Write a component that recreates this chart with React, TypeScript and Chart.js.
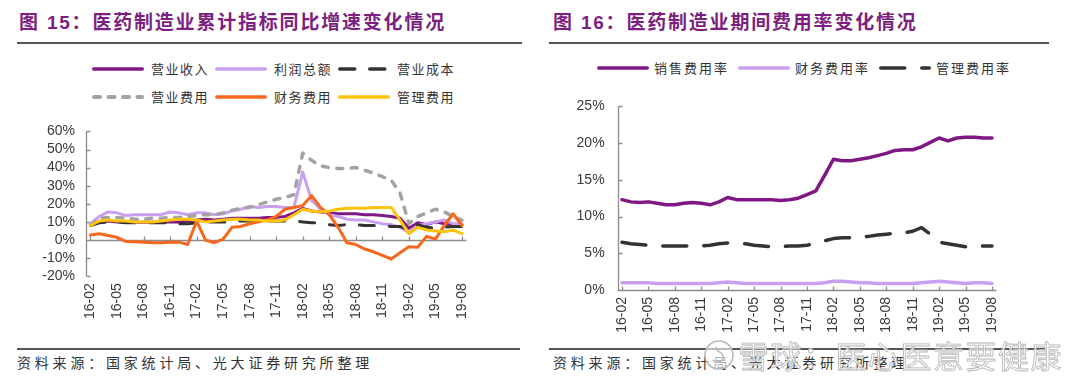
import React, { useEffect, useRef } from 'react';
import { Chart, registerables } from 'chart.js';

Chart.register(...registerables);

const months = [
  '16-02', '16-03', '16-04', '16-05', '16-06', '16-07', '16-08', '16-09', '16-10', '16-11', '16-12',
  '17-01', '17-02', '17-03', '17-04', '17-05', '17-06', '17-07', '17-08', '17-09', '17-10', '17-11', '17-12',
  '18-01', '18-02', '18-03', '18-04', '18-05', '18-06', '18-07', '18-08', '18-09', '18-10', '18-11', '18-12',
  '19-01', '19-02', '19-03', '19-04', '19-05', '19-06', '19-07', '19-08',
];

// 图15：累计同比增速 (%)
const revenue = [8.5, 10, 10.5, 10, 9.8, 9.8, 9.8, 9.8, 10, 10, 10, 10.5, 11, 11.5, 11, 11.5, 12, 12, 12, 12, 12.5, 12.5, 13, 15, 17.5, 16, 15.5, 15, 14.5, 14.5, 14.5, 14, 14, 13.5, 13, 12, 6.5, 9.5, 8.5, 10, 9, 8.5, 8.5];
const profit = [9, 13, 15.5, 15, 13.5, 14, 14, 14, 14, 15.5, 15, 14, 15, 15, 14, 14.5, 16, 17, 18.5, 18, 18.5, 18.5, 18, 18, 37.5, 22, 17, 14, 13, 11.5, 11, 11, 10, 9, 8.5, 7, 4, 8, 9, 10, 11, 9, 9];
const cost = [8, 9.5, 10, 10, 9.5, 9.5, 9.5, 9.5, 9.5, 9.5, 9, 9, 9.5, 10, 10, 10, 10, 10.5, 10.5, 10.5, 10.5, 10.5, 10.5, 10.5, 10, 9.5, 9.5, 8.5, 8, 8.5, 8.5, 8, 8, 8, 7.5, 7.5, 5.5, 8.5, 7, 6.5, 7, 7.5, 7.5];
const sellingExp = [8, 12, 12.5, 12.5, 12, 11.5, 11.5, 12, 12, 12.5, 12.5, 13, 13.5, 14, 14, 15, 16.5, 17.5, 18, 19.5, 21, 22.5, 23.5, 25, 48, 44, 41, 40, 39.5, 39.5, 40, 38.5, 37, 35, 33, 26, 9, 13, 15, 17, 15.5, 13, 11];
const financeExp = [2.8, 3.5, 2.5, 1.5, -0.8, -1, -1.2, -1.5, -1.5, -1.3, -1.2, -2.5, 10.5, 0, -1.5, 0.5, 7, 7.5, 9, 10, 11, 13, 17, 18, 19, 24.5, 18, 14, 7, -1.5, -2.5, -5, -6.5, -8.5, -10.5, -7, -3.7, -4, 2, 0.5, 8, 14.5, 8];
const adminExp = [8, 10.5, 11, 10.5, 10.5, 10, 10, 10, 10.5, 11, 11.5, 11.5, 11, 10, 10.5, 11, 11.5, 11.5, 11, 11, 10.5, 10.5, 11, 14, 17, 16, 15.5, 16, 17, 17.5, 17.5, 17.5, 18, 18, 18, 11, 3.5, 7, 5.5, 5, 4.5, 5.5, 3.5];

// 图16：期间费用率 (%)
const sellingRate = [12.3, 12.0, 11.9, 12.0, 11.8, 11.6, 11.6, 11.8, 11.9, 11.8, 11.6, 12.0, 12.6, 12.3, 12.3, 12.3, 12.3, 12.3, 12.2, 12.3, 12.5, 13.0, 13.5, 15.6, 17.8, 17.6, 17.6, 17.8, 18.0, 18.3, 18.6, 19.0, 19.1, 19.1, 19.5, 20.1, 20.7, 20.3, 20.7, 20.8, 20.8, 20.7, 20.7];
const financeRate = [1.0, 1.0, 1.0, 1.0, 0.9, 0.9, 0.9, 0.9, 0.9, 0.9, 0.9, 1.0, 1.1, 1.0, 0.9, 0.9, 0.9, 0.9, 0.9, 0.9, 0.9, 0.9, 0.9, 1.0, 1.2, 1.2, 1.1, 1.0, 1.0, 0.9, 0.9, 0.9, 0.9, 0.9, 1.0, 1.1, 1.2, 1.1, 1.0, 0.9, 1.0, 1.0, 0.9];
const adminRate = [6.5, 6.3, 6.2, 6.1, 6.0, 6.0, 6.0, 6.0, 6.0, 6.0, 6.1, 6.3, 6.4, 6.4, 6.3, 6.1, 6.0, 5.9, 5.9, 6.0, 6.0, 6.1, 6.3, 6.7, 7.0, 7.1, 7.1, 7.2, 7.3, 7.5, 7.6, 7.7, 7.8, 8.0, 8.5, 7.6, 6.5, 6.3, 6.1, 5.9, 5.9, 6.0, 6.0];

const PURPLE = '#7f1784';
const LAVENDER = '#c9a0f0';
const BLACK = '#333333';
const GRAY = '#a3a3a3';
const ORANGE = '#f8671c';
const YELLOW = '#ffc20e';
const TITLE = '#7d1f80';
const AXIS = '#8c8c8c';
const TEXT = '#3a3a3a';

const DASH_LONG_1 = [15, 15];
const DASH_LONG_2 = [24, 17];
const DASH_SHORT = [6, 8.5];

const fig15Series = [
  { label: '营业收入', data: revenue, color: PURPLE, dash: [] as number[] },
  { label: '利润总额', data: profit, color: LAVENDER, dash: [] as number[] },
  { label: '营业成本', data: cost, color: BLACK, dash: DASH_LONG_1 },
  { label: '营业费用', data: sellingExp, color: GRAY, dash: DASH_SHORT },
  { label: '财务费用', data: financeExp, color: ORANGE, dash: [] as number[] },
  { label: '管理费用', data: adminExp, color: YELLOW, dash: [] as number[] },
];

const fig16Series = [
  { label: '销售费用率', data: sellingRate, color: PURPLE, dash: [] as number[] },
  { label: '财务费用率', data: financeRate, color: LAVENDER, dash: [] as number[] },
  { label: '管理费用率', data: adminRate, color: BLACK, dash: DASH_LONG_2 },
];

function axesPlugin(zeroValue: number) {
  return {
    id: 'customAxes',
    beforeDatasetsDraw(chart: any) {
      const { ctx, chartArea, scales } = chart;
      const xs = scales.x;
      const ys = scales.y;
      ctx.save();
      ctx.strokeStyle = AXIS;
      ctx.lineWidth = 1.3;
      const left = Math.round(chartArea.left) + 0.5;
      ctx.beginPath();
      ctx.moveTo(left, chartArea.top);
      ctx.lineTo(left, chartArea.bottom);
      ys.ticks.forEach((t: any) => {
        const py = Math.round(ys.getPixelForValue(t.value)) + 0.5;
        ctx.moveTo(left, py);
        ctx.lineTo(left + 4, py);
      });
      const py0 = Math.round(ys.getPixelForValue(zeroValue)) + 0.5;
      ctx.moveTo(chartArea.left, py0);
      ctx.lineTo(chartArea.right, py0);
      for (let i = 0; i < months.length; i += 3) {
        const px = Math.round(xs.getPixelForValue(i)) + 0.5;
        ctx.moveTo(px, py0);
        ctx.lineTo(px, py0 - 4);
      }
      ctx.stroke();
      ctx.restore();
    },
  };
}

function makeConfig(
  series: { label: string; data: number[]; color: string; dash: number[] }[],
  lw: number,
  yMin: number,
  yMax: number,
  step: number,
  yWidth: number,
  xHeight: number,
  padTop: number,
  padRight: number,
  yPad: number,
  zeroValue: number
): any {
  const n = series.length;
  return {
    type: 'line',
    data: {
      labels: months,
      datasets: series.map((s, i) => ({
        label: s.label,
        data: s.data,
        borderColor: s.color,
        backgroundColor: s.color,
        borderWidth: s.color === GRAY ? lw + 0.5 : lw,
        borderDash: s.dash,
        borderCapStyle: 'round',
        borderJoinStyle: 'round',
        pointRadius: 0,
        tension: 0,
        fill: false,
        order: n - i,
      })),
    },
    options: {
      animation: false,
      responsive: false,
      events: [],
      layout: { padding: { left: 0, right: padRight, top: padTop, bottom: 0 } },
      plugins: { legend: { display: false }, tooltip: { enabled: false } },
      scales: {
        x: {
          type: 'category',
          offset: true,
          grid: { display: false, drawTicks: false },
          border: { display: false },
          ticks: {
            autoSkip: false,
            maxRotation: 90,
            minRotation: 90,
            padding: 7,
            color: TEXT,
            font: { family: '"Liberation Sans", Arial, sans-serif', size: 14 },
            callback: (_v: any, i: number) => (i % 3 === 0 ? months[i] : null),
          },
          afterFit: (s: any) => {
            s.height = xHeight;
          },
        },
        y: {
          min: yMin,
          max: yMax,
          grid: { display: false, drawTicks: false },
          border: { display: false },
          ticks: {
            autoSkip: false,
            stepSize: step,
            padding: yPad,
            color: TEXT,
            font: { family: '"Liberation Sans", Arial, sans-serif', size: 14 },
            callback: (v: any) => v + '%',
          },
          afterFit: (s: any) => {
            s.width = yWidth;
          },
        },
      },
    },
    plugins: [axesPlugin(zeroValue)],
  };
}

function Sample({ color, dash, lw, w }: { color: string; dash: number[]; lw: number; w: number }) {
  return (
    <svg width={w} height={10} style={{ display: 'block' }}>
      <line
        x1={lw / 2}
        y1={5}
        x2={w - lw / 2}
        y2={5}
        stroke={color}
        strokeWidth={lw}
        strokeLinecap="round"
        strokeDasharray={dash.length ? dash.join(' ') : undefined}
      />
    </svg>
  );
}

function LegendEntry({
  x, y, color, dash, lw, label, textX, spacing,
}: {
  x: number; y: number; color: string; dash: number[]; lw: number; label: string; textX: number; spacing: number;
}) {
  return (
    <>
      <div style={{ position: 'absolute', left: x, top: y - 5 }}>
        <Sample color={color} dash={dash} lw={lw} w={52} />
      </div>
      <div
        style={{
          position: 'absolute',
          left: textX,
          top: y - 9,
          height: 18,
          lineHeight: '18px',
          fontSize: 13,
          letterSpacing: spacing,
          color: '#333',
          fontFamily: '"Noto Sans CJK SC", sans-serif',
          whiteSpace: 'nowrap',
        }}
      >
        {label}
      </div>
    </>
  );
}

export default function App() {
  const ref1 = useRef<HTMLCanvasElement | null>(null);
  const ref2 = useRef<HTMLCanvasElement | null>(null);

  useEffect(() => {
    const c1 = new Chart(
      ref1.current as HTMLCanvasElement,
      makeConfig(fig15Series, 3, -20, 60, 10, 86, 53.8, 21.4, 73.6, 11, 0)
    );
    const c2 = new Chart(
      ref2.current as HTMLCanvasElement,
      makeConfig(fig16Series, 3.5, 0, 25, 5, 77.6, 55, 18, 83.6, 13, 0)
    );
    return () => {
      c1.destroy();
      c2.destroy();
    };
  }, []);

  const titleStyle: React.CSSProperties = {
    position: 'absolute',
    top: 12,
    height: 22,
    lineHeight: '22px',
    fontSize: 19,
    fontWeight: 700,
    letterSpacing: 1.8,
    color: TITLE,
    fontFamily: '"Liberation Sans", "Noto Sans CJK SC", sans-serif',
    whiteSpace: 'nowrap',
  };
  const footStyle: React.CSSProperties = {
    position: 'absolute',
    top: 353,
    height: 18,
    lineHeight: '18px',
    fontSize: 14,
    letterSpacing: 3.8,
    color: '#333',
    fontFamily: '"Noto Sans CJK SC", sans-serif',
    whiteSpace: 'nowrap',
  };
  const rule = (left: number, top: number, width: number): React.CSSProperties => ({
    position: 'absolute',
    left,
    top,
    width,
    height: 1.5,
    background: '#555',
  });

  const rows15 = [
    [fig15Series[0], fig15Series[1], fig15Series[2]],
    [fig15Series[3], fig15Series[4], fig15Series[5]],
  ];
  const cols15 = [92, 215, 338];
  const rowsY15 = [69, 97];
  const cols16 = [597, 738, 879];

  return (
    <div
      style={{
        position: 'absolute',
        left: 0,
        top: 0,
        width: 1080,
        height: 389,
        overflow: 'hidden',
        background: '#fff',
      }}
    >
      <div style={{ ...titleStyle, left: 19 }}>图 15：医药制造业累计指标同比增速变化情况</div>
      <div style={{ ...titleStyle, left: 553 }}>图 16：医药制造业期间费用率变化情况</div>
      <div style={rule(17, 42, 505)} />
      <div style={rule(549, 42, 500)} />

      {rows15.map((row, r) =>
        row.map((s, c) => (
          <LegendEntry
            key={s.label}
            x={cols15[c]}
            y={rowsY15[r]}
            color={s.color}
            dash={s.dash}
            lw={s.color === GRAY ? 4 : 3.5}
            label={s.label}
            textX={cols15[c] + 59}
            spacing={1.5}
          />
        ))
      )}
      {fig16Series.map((s, c) => (
        <LegendEntry
          key={s.label}
          x={cols16[c]}
          y={68}
          color={s.color}
          dash={s.dash}
          lw={3.5}
          label={s.label}
          textX={cols16[c] + 57}
          spacing={2}
        />
      ))}

      <canvas
        ref={ref1}
        width={540}
        height={220}
        style={{ position: 'absolute', left: 0, top: 110, width: 540, height: 220 }}
      />
      <canvas
        ref={ref2}
        width={540}
        height={260}
        style={{ position: 'absolute', left: 540, top: 85, width: 540, height: 260 }}
      />

      <div style={rule(17, 348, 503)} />
      <div style={rule(549, 348, 496)} />
      <div style={{ ...footStyle, left: 17 }}>资料来源：国家统计局、光大证券研究所整理</div>
      <div style={{ ...footStyle, left: 553 }}>资料来源：国家统计局、光大证券研究所整理</div>

      <svg
        width={34}
        height={34}
        style={{ position: 'absolute', left: 702, top: 338 }}
      >
        <circle cx={17} cy={17} r={14} fill="rgba(255,255,255,0.6)" stroke="#b8b8b8" strokeWidth={1.5} />
        <path d="M11 22 C 14 26, 22 24, 21 18 C 20 13, 13 14, 14 9" fill="none" stroke="#b8b8b8" strokeWidth={1.5} />
      </svg>
      <div
        style={{
          position: 'absolute',
          left: 738,
          top: 337,
          height: 36,
          lineHeight: '36px',
          fontSize: 31,
          letterSpacing: 1.5,
          color: 'rgba(250,250,250,0.75)',
          WebkitTextStroke: '0.8px #b5b5b5',
          fontFamily: '"Noto Sans CJK SC", sans-serif',
          whiteSpace: 'nowrap',
        }}
      >
        雪球：医心医意要健康
      </div>
    </div>
  );
}
